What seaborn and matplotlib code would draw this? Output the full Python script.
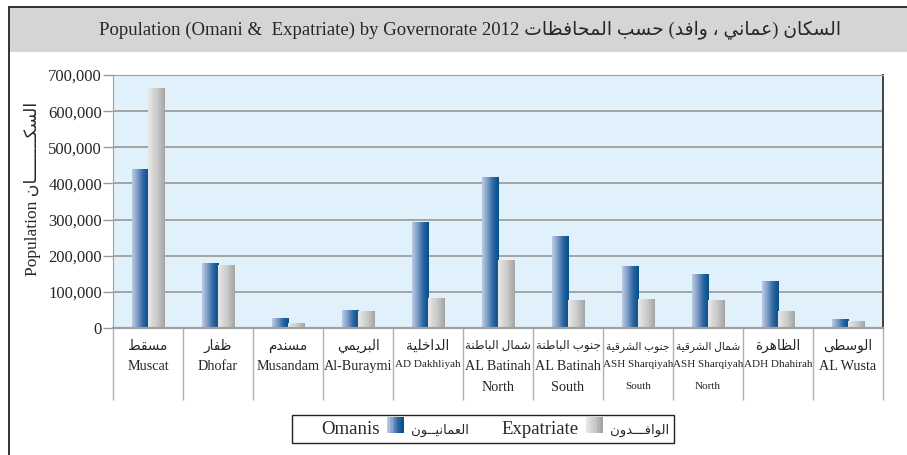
import numpy as np
import pandas as pd
import seaborn as sns
import matplotlib
matplotlib.use('Agg')
from matplotlib import pyplot as plt
from matplotlib.colors import LinearSegmentedColormap
from matplotlib.patches import Patch, Rectangle
from matplotlib.lines import Line2D
from matplotlib.ticker import FixedLocator, FuncFormatter

GOV_AR = ['مسقط', 'ظفار', 'مسندم', 'البريمي', 'الداخلية', 'شمال الباطنة',
          'جنوب الباطنة', 'جنوب الشرقية', 'شمال الشرقية', 'الظاهرة', 'الوسطى']
GOV_EN = ['Muscat', 'Dhofar', 'Musandam', 'Al-Buraymi', 'AD Dakhliyah', 'AL Batinah\nNorth',
          'AL Batinah\nSouth', 'ASH Sharqiyah\nSouth', 'ASH Sharqiyah\nNorth', 'ADH Dhahirah', 'AL Wusta']
OMANIS = [439000, 178000, 27000, 49000, 291000, 417000, 252000, 170000, 148000, 128000, 24000]
EXPATS = [662000, 172000, 13000, 46000, 82000, 186000, 76000, 79000, 76000, 46000, 18000]
CONDENSED = ['AD Dakhliyah', 'ASH Sharqiyah\nSouth', 'ASH Sharqiyah\nNorth', 'ADH Dhahirah']

TITLE_EN = 'Population (Omani &  Expatriate) by Governorate 2012'
TITLE_AR = 'السكان (عماني ، وافد) حسب المحافظات'
YLABEL_AR = 'السكــــــــان'
LEGEND_AR = ['العمانيــون', 'الوافـــدون']

# arabic presentation forms B, in unicode order: letter + number of forms
FORM_TABLE = 'ء1آ2أ2ؤ2إ2ئ4ا2ب4ة2ت4ث4ج4ح4خ4د2ذ2ر2ز2س4ش4ص4ض4ط4ظ4ع4غ4ف4ق4ك4ل4م4ن4ه4و2ى2ي4'
FORMS = {}
code = 0xFE80
for i in range(0, len(FORM_TABLE), 2):
    n = int(FORM_TABLE[i + 1])
    FORMS[FORM_TABLE[i]] = (code, n)
    code += n


def ar(text):
    # no shaping engine in matplotlib: pick joined forms by hand, then lay out right to left
    def dual(c):
        return c == 'ـ' or (c in FORMS and FORMS[c][1] == 4)
    out = []
    for i, c in enumerate(text):
        if c not in FORMS:
            out.append(c)
            continue
        base, n = FORMS[c]
        prev = text[i - 1] if i > 0 else ''
        nxt = text[i + 1] if i + 1 < len(text) else ''
        p = n > 1 and dual(prev)
        q = n == 4 and (nxt in FORMS or nxt == 'ـ')
        k = 3 if (p and q) else 1 if p else 2 if q else 0
        out.append(chr(base + k))
    return ''.join(out)[::-1].translate(str.maketrans('()', ')('))


sns.set_style('white')
plt.rcParams['font.family'] = ['Liberation Serif', 'DejaVu Sans']

OMANI_CMAP = LinearSegmentedColormap.from_list('om', ['#bccbe3', '#7b9bc6', '#2d65a0', '#02508a'])
EXPAT_CMAP = LinearSegmentedColormap.from_list('ex', ['#e8e8e8', '#cdcdcd', '#a4a4a4'])

df = pd.DataFrame({
    'gov': GOV_EN * 2,
    'group': ['Omanis'] * len(OMANIS) + ['Expatriate'] * len(EXPATS),
    'pop': OMANIS + EXPATS,
})

fig = plt.figure(figsize=(9.07, 4.55), dpi=100)
ax = fig.add_axes([113 / 907, 1 - 328 / 455, 770 / 907, 253 / 455])
ax.set_facecolor('#e0f1fb')

sns.barplot(data=df, x='gov', y='pop', hue='group', hue_order=['Omanis', 'Expatriate'],
            palette={'Omanis': '#2d65a0', 'Expatriate': '#c0c0c0'}, width=0.46,
            saturation=1, edgecolor='none', legend=False, ax=ax)

# horizontal gradients painted over each bar
grad = np.linspace(0, 1, 64)[None, :]
for bar in list(ax.patches):
    x0, y0 = bar.get_x(), bar.get_y()
    w, h = bar.get_width(), bar.get_height()
    if h <= 0:
        continue
    fc = bar.get_facecolor()
    cmap = OMANI_CMAP if fc[2] > fc[0] + 0.1 else EXPAT_CMAP
    ax.imshow(grad, extent=(x0, x0 + w, y0, y0 + h), cmap=cmap, aspect='auto',
              interpolation='bilinear', zorder=bar.get_zorder() + 0.1)

ax.set_xlim(-0.5, len(GOV_EN) - 0.5)
ax.set_ylim(0, 700000)
ax.set_aspect('auto')
ax.yaxis.grid(True, color='#a3a3a3', lw=1.4)
ax.set_axisbelow(True)
ax.yaxis.set_major_locator(FixedLocator(np.arange(0, 700001, 100000)))
ax.yaxis.set_major_formatter(FuncFormatter(lambda v, _: f'{int(v):,}'))
ax.tick_params(axis='y', left=True, length=7, width=1, color='#999999', pad=1, labelsize=12)

# arabic names on the axis itself, english names on a second axis underneath
ax.set_xticks(range(len(GOV_EN)))
ax.set_xticklabels([ar(a) for a in GOV_AR])
for lab, a in zip(ax.get_xticklabels(), GOV_AR):
    if 'الشرقية' in a:
        lab.set_fontsize(7.7)
    elif ' ' in a:
        lab.set_fontsize(8.6)
    else:
        lab.set_fontsize(9.8)
    lab.set_verticalalignment('center')
ax.tick_params(axis='x', which='major', bottom=False, length=0, pad=13)
ax.xaxis.set_minor_locator(FixedLocator(np.arange(-0.5, len(GOV_EN), 1)))
ax.tick_params(axis='x', which='minor', bottom=True, length=52, width=1, color='#b0b0b0')

sec = ax.secondary_xaxis('bottom')
sec.set_xticks(range(len(GOV_EN)))
sec.set_xticklabels(GOV_EN)
for lab, e in zip(sec.get_xticklabels(), GOV_EN):
    small = e in CONDENSED
    lab.set_fontsize(8.0 if small else 10.2)
    lab.set_linespacing(2.8 if small else 1.85)
sec.tick_params(axis='x', length=0, pad=23)
sec.spines['bottom'].set_visible(False)

ax.set_xlabel('')
ax.set_ylabel('Population ' + ar(YLABEL_AR), fontsize=12.5)
ax.yaxis.set_label_coords(-0.094, 0.55)

for side in ['left', 'bottom', 'top']:
    ax.spines[side].set_color('#a0a0a0')
ax.spines['bottom'].set_linewidth(1.6)
ax.spines['right'].set_color('#404040')
ax.spines['right'].set_linewidth(1.4)

# title band and outer frame
fig.add_artist(Rectangle((9 / 907, 1 - 52 / 455), 1 - 9 / 907, 45 / 455, transform=fig.transFigure,
                         facecolor='#d5d5d5', edgecolor='none', zorder=0))
fig.add_artist(Line2D([9 / 907, 1], [1 - 7 / 455] * 2, transform=fig.transFigure, color='#222222', lw=1.3))
fig.add_artist(Line2D([9 / 907] * 2, [0, 1 - 7 / 455], transform=fig.transFigure, color='#222222', lw=1.3))
fig.text(470 / 907, 1 - 30 / 455, TITLE_EN + ' ' + ar(TITLE_AR), ha='center', va='center', fontsize=13.5)


class GradHandler:
    def __init__(self, cmap):
        self.cmap = cmap

    def legend_artist(self, legend, orig_handle, fontsize, handlebox):
        x0, y0 = handlebox.xdescent, handlebox.ydescent
        w, h = handlebox.width, handlebox.height
        n = 12
        for i in range(n):
            r = Rectangle((x0 + w * i / n, y0), w / n + 0.3, h,
                          facecolor=self.cmap(i / (n - 1)), edgecolor='none',
                          transform=handlebox.get_transform())
            handlebox.add_artist(r)
        return r


blank = Patch(facecolor='none', edgecolor='none')
h_om = Patch(label='om')
h_ex = Patch(label='ex')
leg = fig.legend([blank, h_om, blank, h_ex],
                 ['Omanis', ar(LEGEND_AR[0]), 'Expatriate', ar(LEGEND_AR[1])],
                 handler_map={h_om: GradHandler(OMANI_CMAP), h_ex: GradHandler(EXPAT_CMAP)},
                 ncol=4, loc='center', bbox_to_anchor=(483 / 907, 1 - 429 / 455),
                 frameon=True, fancybox=False, edgecolor='#222222', framealpha=1,
                 handlelength=0.9, handleheight=0.9, handletextpad=0.4, columnspacing=0.4,
                 borderpad=0.25, fontsize=13.5)
leg.get_frame().set_linewidth(1.0)
for t in leg.get_texts()[1::2]:
    t.set_fontsize(9.5)

fig.savefig('out.png', dpi=100)
